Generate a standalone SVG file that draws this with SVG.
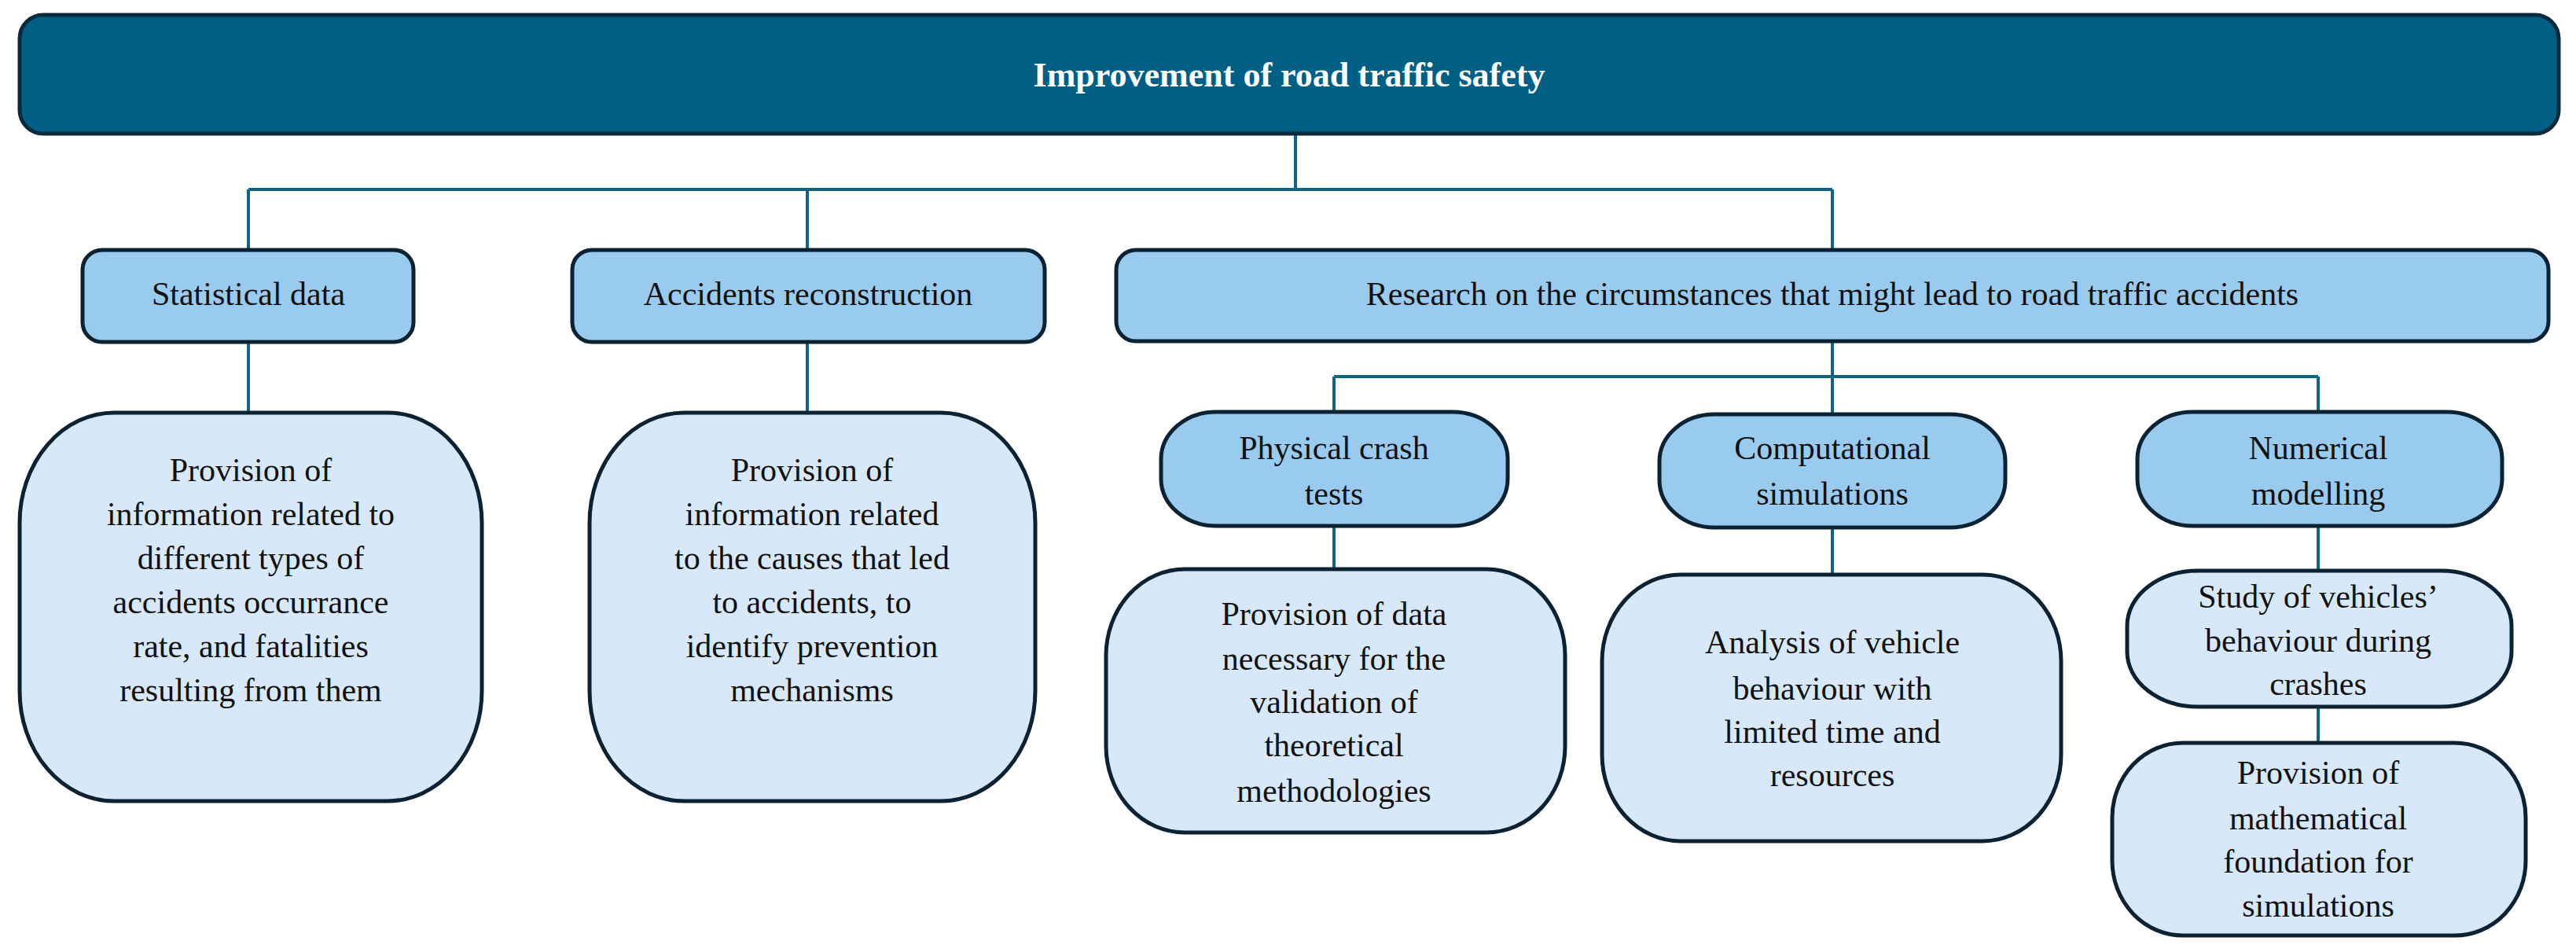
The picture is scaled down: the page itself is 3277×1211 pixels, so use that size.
<svg xmlns="http://www.w3.org/2000/svg" width="3277" height="1211" viewBox="0 0 3277 1211">
<style>
text{font-family:"Liberation Serif","DejaVu Serif",serif;font-size:42px;fill:#111;text-anchor:middle}
.t{font-weight:bold;fill:#fff;font-size:44px}
.mid{fill:#99CBEE;stroke:#0B2233;stroke-width:5}
.low{fill:#D7E9F8;stroke:#0B2233;stroke-width:5}
.c{fill:none;stroke:#0E6586;stroke-width:4}
</style>
<rect width="3277" height="1211" fill="#fff"/>
<g id="connectors">
<path class="c" d="M1648 170V241M316 241H2331M316 241V318M1027 241V318M2331 241V318"/>
<path class="c" d="M316 435V525M1027 435V525"/>
<path class="c" d="M2331 434V479M1697 479H2949M1697 479V524M2331 479V527M2949 479V524"/>
<path class="c" d="M1697 669V724M2331 671V731M2949 669V726M2949 899V945"/>
</g>
<g id="root"><rect x="25" y="19" width="3230" height="151" rx="30" fill="#005F85" stroke="#0A2A3C" stroke-width="5"/><text class="t" x="1640" y="110">Improvement of road traffic safety</text></g>
<g id="stat"><rect class="mid" x="105" y="318" width="421" height="117" rx="25"/><text x="316" y="388">Statistical data</text></g>
<g id="acc"><rect class="mid" x="728" y="318" width="601" height="117" rx="25"/><text x="1028" y="388">Accidents reconstruction</text></g>
<g id="research"><rect class="mid" x="1420" y="318" width="1822" height="116" rx="25"/><text x="2331" y="388">Research on the circumstances that might lead to road traffic accidents</text></g>
<g id="stat-info"><rect class="low" x="25" y="525" width="588" height="494" rx="120" ry="140"/>
<text x="319" y="612">Provision of</text><text x="319" y="668">information related to</text><text x="319" y="724">different types of</text><text x="319" y="780">accidents occurrance</text><text x="319" y="836">rate, and fatalities</text><text x="319" y="892">resulting from them</text></g>
<g id="acc-info"><rect class="low" x="750" y="525" width="567" height="494" rx="120" ry="140"/>
<text x="1033" y="612">Provision of</text><text x="1033" y="668">information related</text><text x="1033" y="724">to the causes that led</text><text x="1033" y="780">to accidents, to</text><text x="1033" y="836">identify prevention</text><text x="1033" y="892">mechanisms</text></g>
<g id="phys"><rect class="mid" x="1477" y="524" width="441" height="145" rx="70" ry="60"/><text x="1697" y="584">Physical crash</text><text x="1697" y="642">tests</text></g>
<g id="comp"><rect class="mid" x="2111" y="527" width="440" height="144" rx="70" ry="60"/><text x="2331" y="584">Computational</text><text x="2331" y="642">simulations</text></g>
<g id="num"><rect class="mid" x="2719" y="524" width="464" height="145" rx="70" ry="60"/><text x="2949" y="584">Numerical</text><text x="2949" y="642">modelling</text></g>
<g id="phys-info"><rect class="low" x="1407" y="724" width="584" height="335" rx="100" ry="110"/>
<text x="1697" y="795">Provision of data</text><text x="1697" y="852">necessary for the</text><text x="1697" y="907">validation of</text><text x="1697" y="962">theoretical</text><text x="1697" y="1020">methodologies</text></g>
<g id="comp-info"><rect class="low" x="2038" y="731" width="584" height="339" rx="100" ry="110"/>
<text x="2331" y="831">Analysis of vehicle</text><text x="2331" y="890">behaviour with</text><text x="2331" y="945">limited time and</text><text x="2331" y="1000">resources</text></g>
<g id="study"><rect class="low" x="2706" y="726" width="489" height="173" rx="90" ry="70"/>
<text x="2949" y="773">Study of vehicles’</text><text x="2949" y="829">behaviour during</text><text x="2949" y="884">crashes</text></g>
<g id="math"><rect class="low" x="2687" y="945" width="526" height="245" rx="90" ry="95"/>
<text x="2949" y="997">Provision of</text><text x="2949" y="1055">mathematical</text><text x="2949" y="1110">foundation for</text><text x="2949" y="1166">simulations</text></g>
</svg>
